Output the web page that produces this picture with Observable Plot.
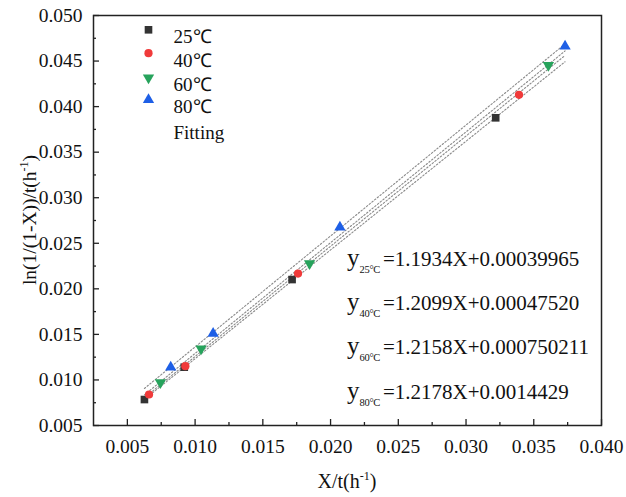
<!DOCTYPE html>
<html>
<head>
<meta charset="utf-8">
<script src="https://cdn.jsdelivr.net/npm/d3@7"></script>
<script src="https://cdn.jsdelivr.net/npm/@observablehq/plot@0.6"></script>
<style>
  html, body { margin: 0; padding: 0; background: #fff; }
  #chart svg { display: block; }
</style>
</head>
<body>
<div id="chart"></div>
<script>
// ---- data ----
const series = ["25℃", "40℃", "60℃", "80℃"];
const x25 = [0.00626, 0.0092, 0.01716, 0.03219];
const y25 = [0.00785, 0.0114, 0.02102, 0.03877];
const x40 = [0.0066, 0.00928, 0.0176, 0.03391];
const y40 = [0.0084, 0.01151, 0.02168, 0.04129];
const x60 = [0.00744, 0.01044, 0.01845, 0.03608];
const y60 = [0.00972, 0.01342, 0.02278, 0.04454];
const x80 = [0.0082, 0.01133, 0.02069, 0.03731];
const y80 = [0.0114, 0.0151, 0.02676, 0.04663];
const slopes = [1.1934, 1.2099, 1.2158, 1.2178];
const intercepts = [0.00039965, 0.00047520, 0.000750211, 0.0014429];
const eqText = ["=1.1934X+0.00039965", "=1.2099X+0.00047520", "=1.2158X+0.000750211", "=1.2178X+0.0014429"];
const xTicks = [0.005, 0.010, 0.015, 0.020, 0.025, 0.030, 0.035, 0.040];
const xMinor = [0.0075, 0.0125, 0.0175, 0.0225, 0.0275, 0.0325, 0.0375];
const yTicks = [0.005, 0.010, 0.015, 0.020, 0.025, 0.030, 0.035, 0.040, 0.045, 0.050];
const yMinor = [0.0075, 0.0125, 0.0175, 0.0225, 0.0275, 0.0325, 0.0375, 0.0425, 0.0475];

const colors = ["#333333", "#f03a3a", "#27a35c", "#1e5fe6"];
const triDown = {
  draw(context, size) {
    const y = -Math.sqrt(size / (3 * Math.sqrt(3)));
    context.moveTo(0, -y * 2);
    context.lineTo(-Math.sqrt(3) * y, y);
    context.lineTo(Math.sqrt(3) * y, y);
    context.closePath();
  }
};
const symbols = ["square", "circle", triDown, "triangle"];
const radii = [4.3, 4.1, 4.2, 4.2];

const xs = [x25, x40, x60, x80], ys = [y25, y40, y60, y80];
const pts = [];
xs.forEach((arr, s) => arr.forEach((x, i) => pts.push({s, x, y: ys[s][i]})));

const allX = xs.flat();
const x0 = d3.min(allX), x1 = d3.max(allX);
const fitPts = [];
slopes.forEach((m, s) => [x0, x1].forEach(x => fitPts.push({s, x, y: m * x + intercepts[s]})));

const W = 626, H = 497, mL = 93, mR = 25, mT = 15, mB = 72;
const pw = W - mL - mR, ph = H - mT - mB;
const font = "'Liberation Serif', 'Times New Roman', serif";

const marks = [
  Plot.line(fitPts, {x: "x", y: "y", z: "s", stroke: "#8a8a8a", strokeWidth: 1.1, strokeDasharray: "1.5,2"}),
  Plot.tickX(xTicks, {x: d => d, stroke: "#222", strokeWidth: 1.3, insetTop: ph - 6}),
  Plot.tickX(xMinor, {x: d => d, stroke: "#222", strokeWidth: 1.3, insetTop: ph - 3}),
  Plot.tickY(yTicks, {y: d => d, stroke: "#222", strokeWidth: 1.3, insetRight: pw - 6}),
  Plot.tickY(yMinor, {y: d => d, stroke: "#222", strokeWidth: 1.3, insetRight: pw - 3}),
  Plot.axisX({ticks: xTicks, tickSize: 0, tickPadding: 13.5, tickFormat: d3.format(".3f"), label: null, fill: "#111", fontSize: 19.5}),
  Plot.axisY({ticks: yTicks, tickSize: 0, tickPadding: 11, tickFormat: d3.format(".3f"), label: null, fill: "#111", fontSize: 19.5}),
  Plot.frame({stroke: "#222", strokeWidth: 1.5})
];
series.forEach((name, s) => {
  marks.push(Plot.dot(pts.filter(d => d.s === s), {x: "x", y: "y", symbol: symbols[s], r: radii[s], fill: colors[s], stroke: "none"}));
});
// legend
const legendDy = [14.3, 37.7, 62.3, 84.3];
series.forEach((name, s) => {
  marks.push(Plot.dot([name], {frameAnchor: "top-left", dx: 55, dy: legendDy[s], symbol: symbols[s], r: radii[s], fill: colors[s]}));
  marks.push(Plot.text([name], {frameAnchor: "top-left", dx: 80, dy: legendDy[s], text: d => d, textAnchor: "start", fontSize: 19, fill: "#111"}));
});
marks.push(Plot.text(["Fitting"], {frameAnchor: "top-left", dx: 80, dy: 110, text: d => d, textAnchor: "start", fontSize: 19, fill: "#111"}));

const plot = Plot.plot({
  width: W, height: H,
  marginLeft: mL, marginRight: mR, marginTop: mT, marginBottom: mB,
  style: {fontFamily: font, fontSize: "19px", background: "#fff", color: "#111"},
  x: {domain: [0.0025, 0.040]},
  y: {domain: [0.005, 0.050]},
  marks
});
document.getElementById("chart").appendChild(plot);

// axis titles with superscripts, equations with subscripts
const svg = d3.select(plot);
const g = svg.append("g").attr("font-family", font).attr("fill", "#111");
const xt = g.append("text").attr("x", mL + pw / 2).attr("y", 488).attr("text-anchor", "middle").attr("font-size", 20);
xt.append("tspan").text("X/t(h");
xt.append("tspan").attr("font-size", 12).attr("dy", -8).text("-1");
xt.append("tspan").attr("dy", 8).text(")");
const yt = g.append("text").attr("transform", `translate(36,${mT + ph / 2}) rotate(-90)`).attr("text-anchor", "middle").attr("font-size", 19.5);
yt.append("tspan").text("ln(1/(1-X))/t(h");
yt.append("tspan").attr("font-size", 12).attr("dy", -8).text("-1");
yt.append("tspan").attr("dy", 8).text(")");

const eqBase = [266, 310, 354, 399];
eqText.forEach((t, i) => {
  const e = g.append("text").attr("x", 347).attr("y", eqBase[i]).attr("text-anchor", "start");
  e.append("tspan").attr("font-size", 25).text("y");
  e.append("tspan").attr("font-size", 10.5).attr("dy", 7).attr("letter-spacing", -0.3).text(series[i].replace("℃", "°C"));
  e.append("tspan").attr("font-size", 21).attr("x", 383).attr("dy", -7).text(t);
});
</script>
</body>
</html>
